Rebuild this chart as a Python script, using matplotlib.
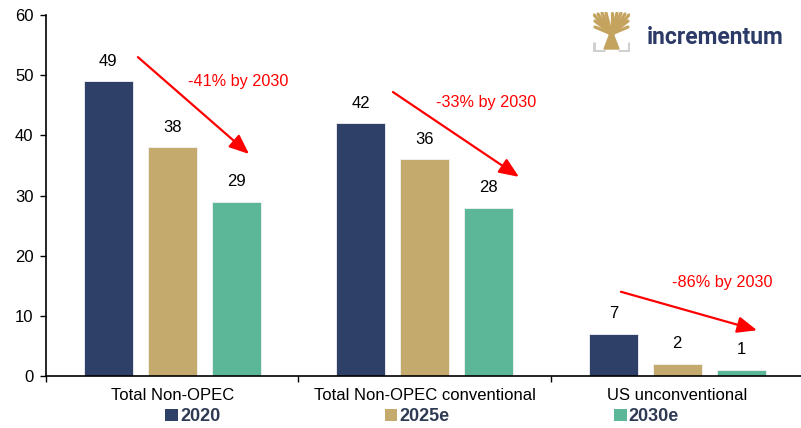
import numpy as np
import matplotlib
matplotlib.use("Agg")
import matplotlib.pyplot as plt
from matplotlib.patches import Polygon

plt.rcParams['font.family'] = ['Liberation Sans', 'DejaVu Sans']

categories = ['Total Non-OPEC', 'Total Non-OPEC conventional', 'US unconventional']
series = ['2020', '2025e', '2030e']
v2020 = [49, 42, 7]
v2025 = [38, 36, 2]
v2030 = [29, 28, 1]
changes = ['-41% by 2030', '-33% by 2030', '-86% by 2030']

colors = ['#2F4068', '#C4AA6C', '#5BB797']

fig = plt.figure(figsize=(8.01, 4.28), dpi=100)
ax = fig.add_axes([46/801, 52/428, 757.5/801, 361/428])

x = np.arange(len(categories))
w = 0.195
off = 0.253
for i, (vals, lab) in enumerate(zip([v2020, v2025, v2030], series)):
    xs = x + (i - 1) * off
    ax.bar(xs, vals, w, color=colors[i], label=lab, edgecolor='#f2f2f2', linewidth=0.6)
    for xx, v in zip(xs, vals):
        ax.annotate(str(v), (xx, v), xytext=(0, 14.5), textcoords='offset points',
                    ha='center', va='center', fontsize=12)

# arrows: (start, end, text position)
arrows = [((-0.136, 53.0), (0.304, 36.9), (0.26, 48.9)),
          ((0.874, 47.2), (1.373, 33.1), (1.243, 45.5)),
          ((1.777, 14.0), (2.316, 7.6), (2.177, 15.5))]
for (s, e, t), txt in zip(arrows, changes):
    ax.annotate('', xy=e, xytext=s,
                arrowprops=dict(arrowstyle='-|>,head_length=0.6,head_width=0.25',
                                color='red', lw=1.6, shrinkA=0, shrinkB=0,
                                mutation_scale=20))
    ax.text(t[0], t[1], txt, color='red', fontsize=11.7, ha='center', va='center')

ax.set_xlim(-0.5, 2.5)
ax.set_ylim(0, 60)
ax.set_yticks(range(0, 61, 10))
ax.set_xticks([-0.5, 0.5, 1.5, 2.5])
ax.set_xticklabels([])
ax.set_xticks(x, minor=True)
ax.set_xticklabels(categories, minor=True)
ax.tick_params(axis='x', which='minor', length=0, pad=9, labelsize=12)
ax.tick_params(axis='x', which='major', length=4, direction='out', width=1)
ax.tick_params(axis='y', length=4, direction='out', width=1, pad=5, labelsize=12)
for sp in ['top', 'right']:
    ax.spines[sp].set_visible(False)
ax.spines['left'].set_linewidth(1.2)
ax.spines['bottom'].set_linewidth(1.2)

leg = fig.legend(loc='center', bbox_to_anchor=(0.527, 0.026), ncol=3, frameon=False,
                 fontsize=13, handlelength=0.7, handleheight=0.7, handletextpad=0.12,
                 columnspacing=9.1, borderpad=0)
for t in leg.get_texts():
    t.set_fontweight('bold')
    t.set_color('#2F3B55')
for h in leg.legend_handles:
    h.set_edgecolor('none')

# logo
fig.text(647/801, 1 - 37/428, 'incrementum', color='#2B3A67', fontsize=16.5,
         fontweight='bold', family='Roboto', ha='left', va='center')
lax = fig.add_axes([593/801, 1 - 52/428, 37/801, 40/428])
lax.set_xlim(0, 37)
lax.set_ylim(0, 40)
lax.axis('off')
gray = '#d0d0d0'
gold = '#C4A35F'
lax.plot([1, 1, 12], [10, 1, 1], color=gray, lw=2.2, solid_capstyle='butt')
lax.plot([25, 36, 36], [1, 1, 10], color=gray, lw=2.2, solid_capstyle='butt')
lax.add_patch(Polygon([(11, 3), (26, 3), (21, 16), (20.5, 24), (16.5, 24), (16, 16)],
                      closed=True, color=gold))
for bx, by in [(1, 37), (5, 38), (9, 39), (13, 39), (18.5, 39), (24, 39), (28, 39),
               (32, 38), (36, 37), (2, 31), (35, 31), (2, 25), (35, 25)]:
    lax.plot([18.5, bx], [18, by], color=gold, lw=2.3, solid_capstyle='round')

fig.savefig('out.png', dpi=100)
